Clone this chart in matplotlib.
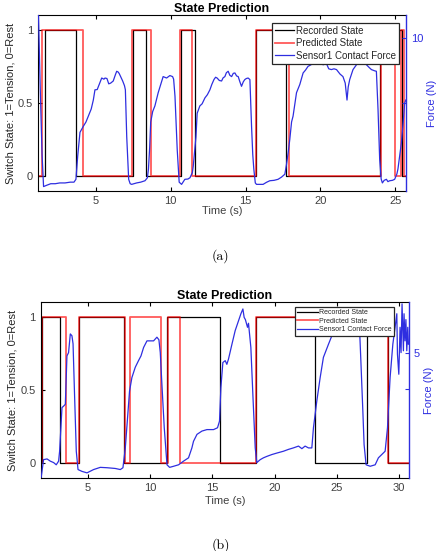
import matplotlib.pyplot as plt

plt.rcParams['font.family'] = ['Liberation Sans', 'DejaVu Sans']

# ---- panel (a) ----
a_rec_t = [1.15, 1.62, 3.69, 7.47, 8.35, 10.69, 11.64, 15.73, 17.67, 24.0, 25.47, 25.7]
a_rec_s = [0, 1, 0, 1, 0, 1, 0, 1, 0, 1, 0, 0]
a_pred_t = [1.15, 1.42, 4.13, 7.40, 8.67, 10.64, 11.40, 15.73, 17.90, 24.05, 25.0, 25.35, 25.6, 25.7]
a_pred_s = [0, 1, 0, 1, 0, 1, 0, 1, 0, 1, 0, 1, 0, 0]

a_force_t = [1.17, 1.30, 1.42, 1.52, 1.75, 2.0, 2.3, 2.6, 2.95, 3.3, 3.55, 3.68, 3.75, 3.8,
             3.95, 4.17, 4.35, 4.51, 4.7, 4.84, 4.95, 5.1, 5.17, 5.3, 5.4, 5.55, 5.62, 5.75,
             5.87, 6.0, 6.17, 6.3, 6.4, 6.5, 6.57, 6.7, 6.8, 6.92, 6.98, 7.07, 7.15, 7.2,
             7.3, 7.4, 7.55, 7.73, 8.0, 8.29, 8.45, 8.52, 8.6, 8.67, 8.8, 8.95, 9.17, 9.29,
             9.5, 9.73, 9.95, 10.13, 10.2, 10.29, 10.44, 10.57, 10.73, 10.95, 11.15, 11.29,
             11.45, 11.51, 11.69, 11.77, 11.95, 12.1, 12.29, 12.45, 12.62, 12.75, 12.89, 13.0,
             13.1, 13.25, 13.4, 13.5, 13.62, 13.72, 13.84, 13.95, 14.07, 14.18, 14.29, 14.4,
             14.51, 14.62, 14.73, 14.85, 14.95, 15.05, 15.17, 15.29, 15.4, 15.48, 15.55, 15.65,
             15.73, 15.95, 16.17, 16.4, 16.62, 16.9, 17.17, 17.4, 17.62, 17.73, 17.85, 17.95,
             18.07, 18.17, 18.3, 18.4, 18.52, 18.62, 18.84, 19.0, 19.17, 19.35, 19.5, 19.8,
             20.0, 20.17, 20.4, 20.55, 20.73, 20.9, 21.07, 21.3, 21.5, 21.65, 21.77, 21.85,
             21.95, 22.17, 22.4, 22.6, 22.9, 23.07, 23.25, 23.4, 23.6, 23.73, 23.84, 23.95,
             24.05, 24.13, 24.25, 24.4, 24.5, 24.62, 24.8, 24.95, 25.1, 25.17, 25.3, 25.4,
             25.52, 25.62, 25.7]
a_force_n = [12.3, 6.0, 1.0, -1.48, -1.37, -1.26, -1.26, -1.20, -1.20, -1.14, -1.14, -0.92, 0.10, 0.89,
             2.70, 3.16, 3.5, 3.95, 4.5, 5.19, 5.98, 6.0, 6.21, 6.6, 6.89, 6.8, 6.89, 6.85,
             6.44, 6.5, 6.66, 7.1, 7.41, 7.35, 7.23, 6.9, 6.66, 6.3, 5.98, 2.36, 0.3, -0.92,
             -1.26, -1.31, -1.26, -1.20, -1.14, -1.03, -0.8, -0.12, 1.5, 3.49, 4.3, 4.74, 5.76, 6.21,
             7.00, 6.89, 7.08, 7.00, 6.8, 5.49, 1.35, -1.14, -1.31, -0.92, -0.9, -0.80,
             -0.4, 0.10, 2.36, 4.17, 4.74, 4.9, 5.36, 5.6, 5.98, 6.4, 6.77, 6.95,
             6.89, 6.7, 6.66, 6.9, 7.00, 7.3, 7.41, 7.1, 7.00, 7.25, 7.28, 7.05,
             7.00, 6.6, 6.25, 6.6, 6.77, 6.85, 6.89, 6.77, 3.16, 1.0, -0.12, -1.2,
             -1.31, -1.31, -1.31, -1.15, -1.03, -1.0, -0.92, -0.75, -0.53, 0.21, 1.2, 2.14,
             3.5, 3.95, 5.0, 5.76, 6.1, 6.39, 7.28, 7.5, 7.79, 7.9, 8.02, 8.2,
             8.1, 7.91, 8.0, 7.6, 7.54, 7.6, 7.54, 7.2, 7.00, 6.5, 5.19, 6.2,
             6.77, 7.54, 7.91, 8.2, 8.3, 7.91, 7.7, 7.54, 7.45, 7.41, 4.47, 0.62,
             -0.9, -1.2, -1.0, -0.92, -1.1, -1.03, -1.0, -0.92, -0.5, -0.12, 1.0, 1.91,
             3.5, 4.97, 5.2]

# ---- panel (b) ----
b_rec_t = [1.2, 1.33, 2.72, 4.28, 7.86, 11.34, 15.63, 18.52, 23.26, 27.40, 29.15, 30.8]
b_rec_s = [0, 1, 0, 1, 0, 1, 0, 1, 0, 1, 0, 0]
b_pred_t = [1.2, 1.28, 3.23, 4.28, 7.94, 8.34, 10.89, 11.45, 12.41, 18.52, 29.15, 30.8]
b_pred_s = [0, 1, 0, 1, 0, 1, 0, 1, 0, 1, 0, 0]

b_force_t = [1.2, 1.25, 1.43, 1.71, 1.97, 2.24, 2.45, 2.64, 2.72, 2.91, 3.04, 3.18, 3.31, 3.44,
             3.58, 3.71, 3.8, 3.92, 4.06, 4.2, 4.52, 4.92, 5.45, 5.99, 6.53, 7.19, 7.6, 7.81,
             8.0, 8.18, 8.34, 8.53, 8.8, 9.06, 9.26, 9.47, 9.74, 10.0, 10.27, 10.54, 10.7, 10.81,
             10.94, 11.13, 11.35, 11.56, 11.88, 12.28, 12.68, 13.08, 13.35, 13.48, 13.76, 14.16,
             14.56, 15.09, 15.41, 15.57, 15.68, 15.84, 16.03, 16.16, 16.29, 16.57, 16.83, 17.1,
             17.29, 17.45, 17.55, 17.65, 17.82, 17.9, 18.09, 18.25, 18.44, 18.57, 18.84, 19.1,
             19.38, 19.78, 20.18, 20.71, 21.11, 21.5, 21.92, 22.19, 22.45, 22.72, 22.99, 23.12,
             23.39, 23.66, 23.92, 24.33, 24.6, 25.0, 25.5, 26.0, 26.5, 26.82, 26.93, 27.09,
             27.19, 27.35, 27.68, 28.08, 28.34, 28.61, 28.88, 29.07, 29.28, 29.5, 29.68, 29.82,
             29.87, 29.98, 30.08, 30.16, 30.24, 30.35, 30.4, 30.48, 30.55, 30.62, 30.7, 30.75]
b_force_n = [1.55, 1.62, 2.08, 2.10, 2.04, 2.0, 1.94, 2.04, 2.31, 3.5, 3.54, 3.59, 4.91, 5.0,
             5.51, 5.46, 5.24, 3.86, 2.31, 1.81, 1.76, 1.72, 1.81, 1.87, 1.86, 1.84, 1.81, 1.86,
             2.4, 3.22, 3.95, 4.32, 4.6, 4.78, 4.91, 5.14, 5.32, 5.32, 5.32, 5.42, 5.35, 5.0,
             4.14, 2.95, 1.94, 1.87, 1.9, 1.94, 2.04, 2.13, 2.4, 2.58, 2.77, 2.86,
             2.9, 2.9, 2.95, 3.13, 4.04, 4.73, 4.78, 4.68, 4.82, 5.23, 5.6, 5.87,
             6.06, 6.19, 5.96, 5.9, 5.69, 5.8, 5.14, 3.86, 2.4, 2.0, 2.08, 2.13,
             2.17, 2.22, 2.26, 2.31, 2.36, 2.4, 2.45, 2.38, 2.45, 2.4, 2.4, 2.95,
             3.68, 4.32, 4.87, 5.23, 5.46, 5.8, 6.0, 6.1, 6.0, 5.69, 4.78, 3.4,
             2.49, 1.94, 1.9, 1.94, 2.13, 2.22, 2.31, 2.95, 4.32, 5.23, 5.69, 6.06,
             4.96, 4.41, 5.69, 5.0, 6.33, 5.05, 6.06, 5.32, 5.9, 5.05, 5.69, 5.23]

BLUE = '#2e2ee0'
GRAY = '#404040'


def draw_panel(rect, rec_t, rec_s, pred_t, pred_s, force_t, force_n, xlim, flim,
               fticks, flabels, leg_size, leg_anchor, leg_hlen, xlabelpad):
    ax = fig.add_axes(rect)
    ax.step(rec_t, rec_s, where='post', color='black', lw=0.9, label='Recorded State')
    ax.step(pred_t, pred_s, where='post', color='red', alpha=0.65, lw=1.3, label='Predicted State')
    ax.set_ylim(-0.1, 1.1)
    ax.set_yticks([0, 0.5, 1])
    ax.set_yticklabels(['0', '0.5', '1'])
    ax.set_xticks([5, 10, 15, 20, 25, 30])
    ax.tick_params(direction='in', length=3, labelsize=8, labelcolor=GRAY, top=True, right=False)
    ax.set_title('State Prediction', fontsize=9, fontweight='bold', pad=2)
    ax.set_ylabel('Switch State: 1=Tension, 0=Rest', fontsize=8, color='#262626', labelpad=2)
    ax.set_xlabel('Time (s)', fontsize=8, color=GRAY, labelpad=xlabelpad)
    ax.spines['right'].set_visible(False)

    ax2 = ax.twinx()
    ax2.plot(force_t, force_n, color=BLUE, lw=0.9, label='Sensor1 Contact Force')
    ax2.set_ylim(*flim)
    ax2.set_yticks(fticks)
    ax2.set_yticklabels(flabels)
    ax2.tick_params(direction='in', length=3, labelsize=8, colors=BLUE)
    ax2.set_ylabel('Force (N)', fontsize=8, color=BLUE, labelpad=3)
    for side in ['left', 'top', 'bottom']:
        ax2.spines[side].set_visible(False)
    ax2.spines['right'].set_color(BLUE)
    ax2.spines['right'].set_linewidth(1.0)
    # limits last, the twin plot rescales the shared x axis
    ax.set_xlim(*xlim)
    ax2.set_xlim(*xlim)

    h1, l1 = ax.get_legend_handles_labels()
    h2, l2 = ax2.get_legend_handles_labels()
    leg = ax2.legend(h1 + h2, l1 + l2, loc='upper right', bbox_to_anchor=leg_anchor,
                     borderaxespad=0, fontsize=leg_size, fancybox=False, framealpha=1,
                     edgecolor='#262626', handlelength=leg_hlen, handletextpad=0.2,
                     labelspacing=0.25, borderpad=0.3)
    leg.get_frame().set_linewidth(0.9)
    for txt in leg.get_texts():
        txt.set_color('#262626')
    return ax


fig = plt.figure(figsize=(4.39, 5.51), dpi=100)

draw_panel([0.0866, 0.6534, 0.838, 0.3194], a_rec_t, a_rec_s, a_pred_t, a_pred_s,
           a_force_t, a_force_n, (1.15, 25.7), (-1.82, 11.75), [5, 10], ['', '10'],
           7, (0.981, 0.955), 2.0, 0)
draw_panel([0.0927, 0.1325, 0.839, 0.3194], b_rec_t, b_rec_s, b_pred_t, b_pred_s,
           b_force_t, b_force_n, (1.2, 30.8), (1.58, 6.38), [4, 5], ['', '5'],
           5, (0.959, 0.972), 3.0, 2)

fig.text(0.503, 1 - 256 / 551, '(a)', ha='center', va='center', fontsize=10, family='cmr10')
fig.text(0.503, 1 - 545 / 551, '(b)', ha='center', va='center', fontsize=10, family='cmr10')

fig.savefig('out.png', dpi=100)
